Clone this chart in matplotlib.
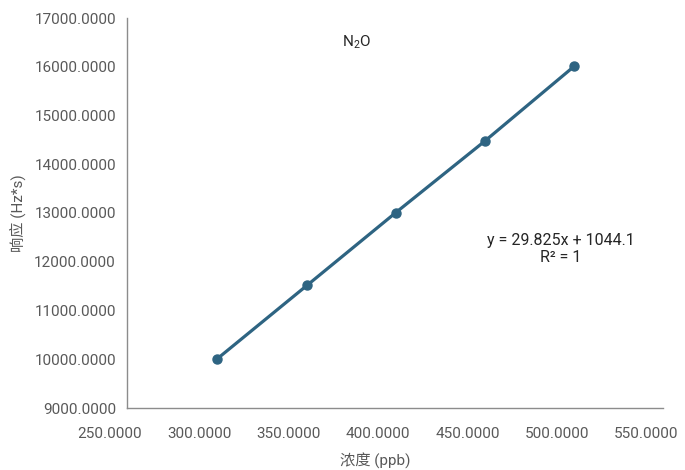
import numpy as np
import matplotlib.pyplot as plt
import matplotlib.transforms as mtransforms

plt.rcParams['font.family'] = ['Roboto', 'Noto Sans CJK SC', 'DejaVu Sans']
plt.rcParams['mathtext.fontset'] = 'custom'
plt.rcParams['mathtext.rm'] = 'Roboto'

# data
conc = [300.2, 350.9, 400.5, 450.1, 500.3]
resp = [10000, 11520, 13010, 14470, 16010]
xticks = [250, 300, 350, 400, 450, 500, 550]
yticks = [9000, 10000, 11000, 12000, 13000, 14000, 15000, 16000, 17000]

grey = '#595959'
line_col = '#2E6482'

fig = plt.figure(figsize=(6.85, 4.70), dpi=100)
ax = fig.add_axes([127/685, 62/470, 536/685, 390/470])

ax.plot(conc, resp, color=line_col, lw=2.3, marker='o', ms=6.5)

ax.set_xlim(250, 550)
ax.set_ylim(9000, 17000)
ax.set_xticks(xticks)
ax.set_yticks(yticks)
ax.set_xticklabels(['%.4f' % v for v in xticks])
ax.set_yticklabels(['%.4f' % v for v in yticks])
ax.tick_params(length=0, labelsize=11, colors=grey)
ax.tick_params(axis='x', pad=14)
ax.tick_params(axis='y', pad=8)

# excel puts the x labels a bit left of their ticks
shift = mtransforms.ScaledTranslation(-17/100, 0, fig.dpi_scale_trans)
for lab in ax.get_xticklabels():
    lab.set_transform(lab.get_transform() + shift)

for s in ['top', 'right']:
    ax.spines[s].set_visible(False)
for s in ['left', 'bottom']:
    ax.spines[s].set_color('#8c8c8c')
    ax.spines[s].set_linewidth(1)

fig.text(357/685, 1 - 42/470, 'N$_\\mathrm{2}$O', ha='center', va='center', fontsize=11, color='#262626')
fig.text(561/685, 1 - 241/470, 'y = 29.825x + 1044.1', ha='center', va='center', fontsize=11.5, color='#262626')
fig.text(561/685, 1 - 258/470, 'R² = 1', ha='center', va='center', fontsize=11.5, color='#262626')

fig.text(375/685, 1 - 461/470, '浓度 (ppb)', ha='center', va='center', fontsize=11, color=grey)
fig.text(18/685, 1 - 213/470, '响应 (Hz*s)', ha='center', va='center', fontsize=11, color=grey, rotation=90)

fig.savefig('out.png', dpi=100)
